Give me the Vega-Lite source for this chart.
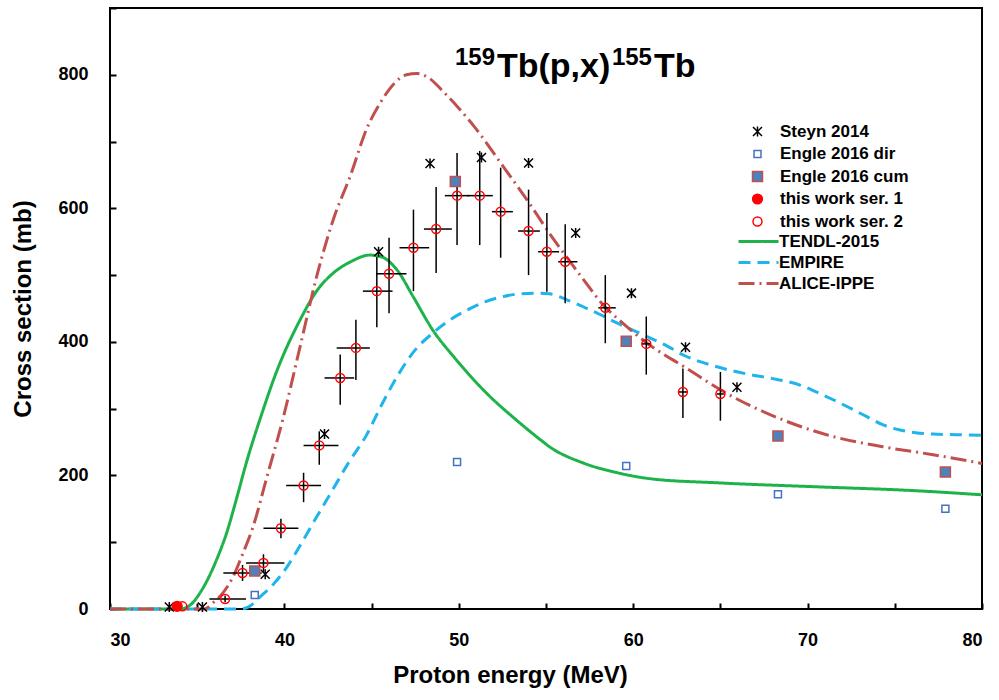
{
  "$schema": "https://vega.github.io/schema/vega-lite/v6.json",
  "width": 872,
  "height": 601,
  "autosize": "none",
  "padding": {"left": 110, "top": 8, "right": 17, "bottom": 91},
  "background": "white",
  "config": {
    "font": "Liberation Sans",
    "view": {"stroke": "black", "strokeWidth": 2},
    "axis": {
      "domain": false, "tickColor": "black", "tickWidth": 2, "tickSize": 6, "offset": -6,
      "grid": false, "labelFont": "Liberation Sans", "labelFontWeight": "bold", "labelFontSize": 18, "labelColor": "black",
      "titleFont": "Liberation Sans", "titleFontWeight": "bold", "titleFontSize": 24, "titleColor": "black"
    },
    "legend": {"labelFont": "Liberation Sans", "labelFontWeight": "bold", "labelFontSize": 17, "labelColor": "black"}
  },
  "datasets": {
    "curves": [
      {"model": "TENDL-2015", "E": 30, "cs": 0}, {"model": "TENDL-2015", "E": 34.0, "cs": 0}, {"model": "TENDL-2015", "E": 34.6, "cs": 6},
      {"model": "TENDL-2015", "E": 35.3, "cs": 30}, {"model": "TENDL-2015", "E": 36.1, "cs": 73}, {"model": "TENDL-2015", "E": 36.7, "cs": 115},
      {"model": "TENDL-2015", "E": 37.2, "cs": 160}, {"model": "TENDL-2015", "E": 37.85, "cs": 222}, {"model": "TENDL-2015", "E": 38.7, "cs": 292},
      {"model": "TENDL-2015", "E": 39.5, "cs": 352}, {"model": "TENDL-2015", "E": 40.9, "cs": 433}, {"model": "TENDL-2015", "E": 41.9, "cs": 478},
      {"model": "TENDL-2015", "E": 42.8, "cs": 503}, {"model": "TENDL-2015", "E": 43.8, "cs": 520}, {"model": "TENDL-2015", "E": 44.9, "cs": 530},
      {"model": "TENDL-2015", "E": 45.6, "cs": 527}, {"model": "TENDL-2015", "E": 46.45, "cs": 508}, {"model": "TENDL-2015", "E": 47.4, "cs": 467},
      {"model": "TENDL-2015", "E": 48.5, "cs": 418}, {"model": "TENDL-2015", "E": 49.7, "cs": 378}, {"model": "TENDL-2015", "E": 51.6, "cs": 323},
      {"model": "TENDL-2015", "E": 53.3, "cs": 283}, {"model": "TENDL-2015", "E": 54.7, "cs": 253}, {"model": "TENDL-2015", "E": 55.2, "cs": 243},
      {"model": "TENDL-2015", "E": 57.1, "cs": 219}, {"model": "TENDL-2015", "E": 59.1, "cs": 204}, {"model": "TENDL-2015", "E": 61.0, "cs": 195},
      {"model": "TENDL-2015", "E": 64.8, "cs": 189}, {"model": "TENDL-2015", "E": 70.5, "cs": 183}, {"model": "TENDL-2015", "E": 76.3, "cs": 177},
      {"model": "TENDL-2015", "E": 80, "cs": 171},
      {"model": "EMPIRE", "E": 30, "cs": 0}, {"model": "EMPIRE", "E": 37.5, "cs": 0}, {"model": "EMPIRE", "E": 38.0, "cs": 4},
      {"model": "EMPIRE", "E": 38.6, "cs": 18}, {"model": "EMPIRE", "E": 39.4, "cs": 38}, {"model": "EMPIRE", "E": 40.15, "cs": 63},
      {"model": "EMPIRE", "E": 40.9, "cs": 95}, {"model": "EMPIRE", "E": 41.65, "cs": 129}, {"model": "EMPIRE", "E": 42.8, "cs": 180},
      {"model": "EMPIRE", "E": 43.7, "cs": 220}, {"model": "EMPIRE", "E": 44.7, "cs": 260}, {"model": "EMPIRE", "E": 45.6, "cs": 307},
      {"model": "EMPIRE", "E": 46.6, "cs": 354}, {"model": "EMPIRE", "E": 47.5, "cs": 388}, {"model": "EMPIRE", "E": 48.5, "cs": 413},
      {"model": "EMPIRE", "E": 49.5, "cs": 433}, {"model": "EMPIRE", "E": 50.5, "cs": 448}, {"model": "EMPIRE", "E": 51.5, "cs": 460},
      {"model": "EMPIRE", "E": 52.4, "cs": 467}, {"model": "EMPIRE", "E": 53.5, "cs": 472}, {"model": "EMPIRE", "E": 54.5, "cs": 473},
      {"model": "EMPIRE", "E": 55.2, "cs": 472}, {"model": "EMPIRE", "E": 56.2, "cs": 463}, {"model": "EMPIRE", "E": 57.1, "cs": 453},
      {"model": "EMPIRE", "E": 58.1, "cs": 441}, {"model": "EMPIRE", "E": 59.1, "cs": 428}, {"model": "EMPIRE", "E": 60.8, "cs": 408},
      {"model": "EMPIRE", "E": 62.0, "cs": 393}, {"model": "EMPIRE", "E": 62.9, "cs": 380}, {"model": "EMPIRE", "E": 64.5, "cs": 365},
      {"model": "EMPIRE", "E": 66.7, "cs": 351}, {"model": "EMPIRE", "E": 68.0, "cs": 345}, {"model": "EMPIRE", "E": 69.6, "cs": 335},
      {"model": "EMPIRE", "E": 70.5, "cs": 325}, {"model": "EMPIRE", "E": 71.5, "cs": 313}, {"model": "EMPIRE", "E": 72.5, "cs": 300},
      {"model": "EMPIRE", "E": 73.4, "cs": 288}, {"model": "EMPIRE", "E": 74.3, "cs": 276}, {"model": "EMPIRE", "E": 75.3, "cs": 268},
      {"model": "EMPIRE", "E": 76.2, "cs": 264}, {"model": "EMPIRE", "E": 77.2, "cs": 262}, {"model": "EMPIRE", "E": 78.5, "cs": 261},
      {"model": "EMPIRE", "E": 80, "cs": 260},
      {"model": "ALICE-IPPE", "E": 30, "cs": 0}, {"model": "ALICE-IPPE", "E": 35.4, "cs": 0}, {"model": "ALICE-IPPE", "E": 35.9, "cs": 9},
      {"model": "ALICE-IPPE", "E": 36.5, "cs": 25}, {"model": "ALICE-IPPE", "E": 37.05, "cs": 48}, {"model": "ALICE-IPPE", "E": 37.6, "cs": 82},
      {"model": "ALICE-IPPE", "E": 38.2, "cs": 123}, {"model": "ALICE-IPPE", "E": 39.0, "cs": 198}, {"model": "ALICE-IPPE", "E": 39.9, "cs": 283},
      {"model": "ALICE-IPPE", "E": 40.9, "cs": 393}, {"model": "ALICE-IPPE", "E": 41.9, "cs": 503}, {"model": "ALICE-IPPE", "E": 42.8, "cs": 583},
      {"model": "ALICE-IPPE", "E": 43.8, "cs": 650}, {"model": "ALICE-IPPE", "E": 44.7, "cs": 718}, {"model": "ALICE-IPPE", "E": 45.5, "cs": 758},
      {"model": "ALICE-IPPE", "E": 46.3, "cs": 787}, {"model": "ALICE-IPPE", "E": 47.0, "cs": 800}, {"model": "ALICE-IPPE", "E": 47.6, "cs": 802},
      {"model": "ALICE-IPPE", "E": 48.3, "cs": 795}, {"model": "ALICE-IPPE", "E": 49.1, "cs": 775}, {"model": "ALICE-IPPE", "E": 50.0, "cs": 750},
      {"model": "ALICE-IPPE", "E": 50.9, "cs": 722}, {"model": "ALICE-IPPE", "E": 52.4, "cs": 668}, {"model": "ALICE-IPPE", "E": 53.9, "cs": 613},
      {"model": "ALICE-IPPE", "E": 55.4, "cs": 555}, {"model": "ALICE-IPPE", "E": 56.1, "cs": 530}, {"model": "ALICE-IPPE", "E": 57.1, "cs": 495},
      {"model": "ALICE-IPPE", "E": 58.4, "cs": 452}, {"model": "ALICE-IPPE", "E": 59.1, "cs": 435}, {"model": "ALICE-IPPE", "E": 60.8, "cs": 398},
      {"model": "ALICE-IPPE", "E": 62.9, "cs": 363}, {"model": "ALICE-IPPE", "E": 65.7, "cs": 318}, {"model": "ALICE-IPPE", "E": 68.6, "cs": 283},
      {"model": "ALICE-IPPE", "E": 71.5, "cs": 258}, {"model": "ALICE-IPPE", "E": 74.3, "cs": 243}, {"model": "ALICE-IPPE", "E": 77.2, "cs": 231},
      {"model": "ALICE-IPPE", "E": 80, "cs": 218}
    ],
    "points": [
      {"series": "Steyn 2014", "E": 33.4, "cs": 3}, {"series": "Steyn 2014", "E": 35.3, "cs": 3}, {"series": "Steyn 2014", "E": 38.9, "cs": 52},
      {"series": "Steyn 2014", "E": 42.3, "cs": 262}, {"series": "Steyn 2014", "E": 45.4, "cs": 535}, {"series": "Steyn 2014", "E": 48.35, "cs": 667},
      {"series": "Steyn 2014", "E": 51.3, "cs": 676}, {"series": "Steyn 2014", "E": 54.0, "cs": 668}, {"series": "Steyn 2014", "E": 56.7, "cs": 563},
      {"series": "Steyn 2014", "E": 59.9, "cs": 473}, {"series": "Steyn 2014", "E": 63.0, "cs": 392}, {"series": "Steyn 2014", "E": 65.95, "cs": 332},
      {"series": "Engle 2016 dir", "E": 38.3, "cs": 21}, {"series": "Engle 2016 dir", "E": 49.9, "cs": 220}, {"series": "Engle 2016 dir", "E": 59.6, "cs": 214},
      {"series": "Engle 2016 dir", "E": 68.3, "cs": 172}, {"series": "Engle 2016 dir", "E": 77.9, "cs": 150},
      {"series": "Engle 2016 cum", "E": 38.3, "cs": 57}, {"series": "Engle 2016 cum", "E": 49.8, "cs": 640}, {"series": "Engle 2016 cum", "E": 59.6, "cs": 401},
      {"series": "Engle 2016 cum", "E": 68.3, "cs": 259}, {"series": "Engle 2016 cum", "E": 77.9, "cs": 205},
      {"series": "this work ser. 1", "E": 33.85, "cs": 4},
      {"series": "this work ser. 2", "E": 34.15, "cs": 4}, {"series": "this work ser. 2", "E": 36.6, "cs": 15}, {"series": "this work ser. 2", "E": 37.6, "cs": 54},
      {"series": "this work ser. 2", "E": 38.8, "cs": 69}, {"series": "this work ser. 2", "E": 39.8, "cs": 121}, {"series": "this work ser. 2", "E": 41.1, "cs": 185},
      {"series": "this work ser. 2", "E": 42.0, "cs": 245}, {"series": "this work ser. 2", "E": 43.2, "cs": 346}, {"series": "this work ser. 2", "E": 44.1, "cs": 391},
      {"series": "this work ser. 2", "E": 45.3, "cs": 476}, {"series": "this work ser. 2", "E": 46.0, "cs": 502}, {"series": "this work ser. 2", "E": 47.4, "cs": 541},
      {"series": "this work ser. 2", "E": 48.7, "cs": 569}, {"series": "this work ser. 2", "E": 49.9, "cs": 619}, {"series": "this work ser. 2", "E": 51.2, "cs": 619},
      {"series": "this work ser. 2", "E": 52.4, "cs": 595}, {"series": "this work ser. 2", "E": 54.0, "cs": 566}, {"series": "this work ser. 2", "E": 55.05, "cs": 535},
      {"series": "this work ser. 2", "E": 56.1, "cs": 520}, {"series": "this work ser. 2", "E": 58.4, "cs": 451}, {"series": "this work ser. 2", "E": 60.75, "cs": 397},
      {"series": "this work ser. 2", "E": 62.85, "cs": 325}, {"series": "this work ser. 2", "E": 65.0, "cs": 322}
    ],
    "errs": [
      {"E": 36.6, "cs": 15, "Elo": 35.7, "Ehi": 37.8, "cslo": 10, "cshi": 20},
      {"E": 37.6, "cs": 54, "Elo": 36.5, "Ehi": 38.7, "cslo": 42, "cshi": 66},
      {"E": 38.8, "cs": 69, "Elo": 37.8, "Ehi": 40.0, "cslo": 55, "cshi": 82},
      {"E": 39.8, "cs": 121, "Elo": 38.8, "Ehi": 40.8, "cslo": 106, "cshi": 135},
      {"E": 41.1, "cs": 185, "Elo": 40.1, "Ehi": 42.1, "cslo": 160, "cshi": 204},
      {"E": 42.0, "cs": 245, "Elo": 41.1, "Ehi": 43.1, "cslo": 216, "cshi": 266},
      {"E": 43.2, "cs": 346, "Elo": 42.3, "Ehi": 44.0, "cslo": 306, "cshi": 381},
      {"E": 44.1, "cs": 391, "Elo": 43.0, "Ehi": 44.9, "cslo": 343, "cshi": 433},
      {"E": 45.3, "cs": 476, "Elo": 44.5, "Ehi": 46.2, "cslo": 422, "cshi": 527},
      {"E": 46.0, "cs": 502, "Elo": 45.25, "Ehi": 47.0, "cslo": 443, "cshi": 556},
      {"E": 47.4, "cs": 541, "Elo": 46.6, "Ehi": 48.3, "cslo": 476, "cshi": 598},
      {"E": 48.7, "cs": 569, "Elo": 48.0, "Ehi": 49.6, "cslo": 503, "cshi": 632},
      {"E": 49.9, "cs": 619, "Elo": 49.2, "Ehi": 50.6, "cslo": 545, "cshi": 683},
      {"E": 51.2, "cs": 619, "Elo": 50.5, "Ehi": 51.95, "cslo": 545, "cshi": 686},
      {"E": 52.4, "cs": 595, "Elo": 51.9, "Ehi": 53.1, "cslo": 526, "cshi": 661},
      {"E": 54.0, "cs": 566, "Elo": 53.4, "Ehi": 54.65, "cslo": 500, "cshi": 628},
      {"E": 55.05, "cs": 535, "Elo": 54.55, "Ehi": 55.75, "cslo": 475, "cshi": 593},
      {"E": 56.1, "cs": 520, "Elo": 55.7, "Ehi": 56.8, "cslo": 458, "cshi": 576},
      {"E": 58.4, "cs": 451, "Elo": 58.0, "Ehi": 59.0, "cslo": 398, "cshi": 500},
      {"E": 60.75, "cs": 397, "Elo": 60.5, "Ehi": 61.0, "cslo": 351, "cshi": 438},
      {"E": 62.85, "cs": 325, "Elo": 62.6, "Ehi": 63.1, "cslo": 286, "cshi": 360},
      {"E": 65.0, "cs": 322, "Elo": 64.8, "Ehi": 65.2, "cslo": 282, "cshi": 355}
    ],
    "titleBig": [{"E": 52.19, "cs": 797, "label": "Tb(p,x)"}, {"E": 61.19, "cs": 797, "label": "Tb"}],
    "titleSmall": [{"E": 49.78, "cs": 815, "label": "159"}, {"E": 58.78, "cs": 815, "label": "155"}]
  },
  "layer": [
    {
      "data": {"name": "curves"},
      "mark": {"type": "line", "strokeWidth": 3, "interpolate": "monotone"},
      "encoding": {
        "x": {"field": "E", "type": "quantitative", "scale": {"domain": [30, 80], "nice": false},
          "axis": {"title": "Proton energy  (MeV)", "values": [30, 35, 40, 45, 50, 55, 60, 65, 70, 75, 80],
            "labelExpr": "datum.value % 10 === 0 ? datum.label : ''", "labelPadding": 22, "titlePadding": 14,
            "titleX": 400, "titleAlign": "center"}},
        "y": {"field": "cs", "type": "quantitative", "scale": {"domain": [0, 900], "nice": false},
          "axis": {"title": "Cross section  (mb)", "values": [0, 100, 200, 300, 400, 500, 600, 700, 800, 900],
            "labelExpr": "datum.value % 200 === 0 && datum.value < 900 ? datum.label : ''", "labelPadding": 22, "titlePadding": 22}},
        "color": {"field": "model", "type": "nominal",
          "scale": {"domain": ["TENDL-2015", "EMPIRE", "ALICE-IPPE"], "range": ["#1db34a", "#1fb4ec", "#c0504d"]},
          "legend": {"title": null, "orient": "none", "legendX": 637, "legendY": 222, "symbolType": "M-2,0L2,0", "symbolSize": 400, "symbolStrokeWidth": 3, "rowPadding": 1, "labelOffset": 9, "padding": 0}},
        "strokeDash": {"field": "model", "type": "nominal",
          "scale": {"domain": ["TENDL-2015", "EMPIRE", "ALICE-IPPE"], "range": [[1, 0], [12, 7], [16, 5, 2, 5]]},
          "legend": {"title": null, "orient": "none", "legendX": 637, "legendY": 222, "symbolType": "M-2,0L2,0", "symbolSize": 400, "symbolStrokeWidth": 3, "rowPadding": 1, "labelOffset": 9, "padding": 0}}
      }
    },
    {
      "data": {"name": "errs"},
      "mark": {"type": "rule", "color": "black", "strokeWidth": 1.5},
      "encoding": {
        "x": {"field": "Elo", "type": "quantitative"},
        "x2": {"field": "Ehi"},
        "y": {"field": "cs", "type": "quantitative"}
      }
    },
    {
      "data": {"name": "errs"},
      "mark": {"type": "rule", "color": "black", "strokeWidth": 1.5},
      "encoding": {
        "x": {"field": "E", "type": "quantitative"},
        "y": {"field": "cslo", "type": "quantitative"},
        "y2": {"field": "cshi"}
      }
    },
    {
      "data": {"name": "points"},
      "mark": {"type": "point", "strokeWidth": 1.5, "opacity": 1},
      "encoding": {
        "x": {"field": "E", "type": "quantitative"},
        "y": {"field": "cs", "type": "quantitative"},
        "shape": {"field": "series", "type": "nominal",
          "scale": {"domain": ["Steyn 2014", "Engle 2016 dir", "Engle 2016 cum", "this work ser. 1", "this work ser. 2"],
            "range": ["M-0.9,-0.9L0.9,0.9M-0.9,0.9L0.9,-0.9M0,-1L0,1", "square", "square", "circle", "circle"]},
          "legend": {"title": null, "orient": "none", "legendX": 639, "legendY": 115, "rowPadding": 4.5, "labelOffset": 14, "padding": 0}},
        "fill": {"field": "series", "type": "nominal",
          "scale": {"domain": ["Steyn 2014", "Engle 2016 dir", "Engle 2016 cum", "this work ser. 1", "this work ser. 2"],
            "range": ["transparent", "white", "#4f81bd", "#ff0000", "transparent"]},
          "legend": {"title": null, "orient": "none", "legendX": 639, "legendY": 115, "rowPadding": 4.5, "labelOffset": 14, "padding": 0}},
        "stroke": {"field": "series", "type": "nominal",
          "scale": {"domain": ["Steyn 2014", "Engle 2016 dir", "Engle 2016 cum", "this work ser. 1", "this work ser. 2"],
            "range": ["black", "#4472c4", "#c0504d", "#ff0000", "#ff0000"]},
          "legend": {"title": null, "orient": "none", "legendX": 639, "legendY": 115, "rowPadding": 4.5, "labelOffset": 14, "padding": 0}},
        "size": {"field": "series", "type": "nominal",
          "scale": {"type": "ordinal", "domain": ["Steyn 2014", "Engle 2016 dir", "Engle 2016 cum", "this work ser. 1", "this work ser. 2"],
            "range": [100, 49, 100, 95, 80]},
          "legend": {"title": null, "orient": "none", "legendX": 639, "legendY": 115, "rowPadding": 4.5, "labelOffset": 14, "padding": 0}}
      }
    },
    {
      "data": {"name": "titleBig"},
      "mark": {"type": "text", "font": "Liberation Sans", "fontWeight": "bold", "fontSize": 34, "align": "left", "baseline": "alphabetic", "color": "black"},
      "encoding": {
        "x": {"field": "E", "type": "quantitative"},
        "y": {"field": "cs", "type": "quantitative"},
        "text": {"field": "label"}
      }
    },
    {
      "data": {"name": "titleSmall"},
      "mark": {"type": "text", "font": "Liberation Sans", "fontWeight": "bold", "fontSize": 24, "align": "left", "baseline": "alphabetic", "color": "black"},
      "encoding": {
        "x": {"field": "E", "type": "quantitative"},
        "y": {"field": "cs", "type": "quantitative"},
        "text": {"field": "label"}
      }
    }
  ]
}
